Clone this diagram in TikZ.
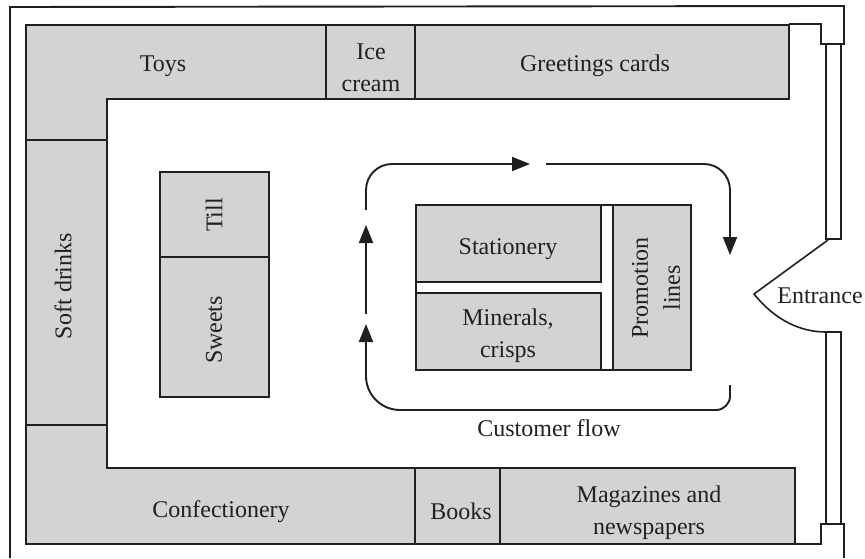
\documentclass[tikz,border=0pt]{standalone}
\usepackage{fontspec}
\setmainfont{Liberation Serif}
\usetikzlibrary{arrows.meta}
\definecolor{ink}{HTML}{231F20}
\definecolor{shelf}{HTML}{D1D3D4}
\tikzset{
  wall/.style={draw=ink,line width=1.9pt,line join=miter},
  stock/.style={wall,fill=shelf},
  label/.style={text=ink,font=\fontsize{24}{32}\selectfont,align=center,inner sep=0pt},
  flow/.style={draw=ink,line width=1.9pt,rounded corners=26pt,-{Triangle[length=18pt,width=14pt]}}
}
\begin{document}
\begin{tikzpicture}[x=1pt,y=-1pt]
\useasboundingbox (0,0) rectangle (865,559);
% outer walls
\draw[wall] (10,558) -- (10,7) -- (844,6) -- (844,44) -- (821,44) -- (821,24) -- (789,24);
\draw[wall] (795,544) -- (821,544) -- (821,524) -- (844,524) -- (844,558);
\draw[wall] (826,44) rectangle (841,239);
\draw[wall] (826,332) rectangle (841,524);
\draw[wall,line width=1.6pt] (828,240) -- (754,294) .. controls (775,320) and (800,332) .. (826,332);
% perimeter shelves
\draw[stock] (26,25) -- (789,25) -- (789,99) -- (107,99) -- (107,468) -- (795,468) -- (795,544) -- (26,544) -- cycle;
\draw[wall] (326,25) -- (326,99) (415,25) -- (415,99);
\draw[wall] (415,468) -- (415,544) (500,468) -- (500,544);
\draw[wall] (26,140) -- (107,140) (26,425) -- (107,425);
% till and sweets
\draw[stock] (160,172) rectangle (269,257);
\draw[stock] (160,257) rectangle (269,397);
% centre
\draw[wall] (416,205) rectangle (691,370);
\draw[stock] (416,205) rectangle (601,282);
\draw[stock] (416,293) rectangle (601,370);
\draw[stock] (613,205) rectangle (691,370);
% flow
\coordinate (a1) at (366,210); \coordinate (a2) at (366,164); \coordinate (a3) at (530,164);
\coordinate (b1) at (546,164); \coordinate (b2) at (730,164); \coordinate (b3) at (730,255);
\coordinate (c1) at (366,314); \coordinate (c2) at (366,225);
\coordinate (d1) at (730,385); \coordinate (d2) at (730,410); \coordinate (d3) at (366,410); \coordinate (d4) at (366,324);
\draw[flow] (a1) -- (a2) -- (a3);
\draw[flow] (b1) -- (b2) -- (b3);
\draw[flow] (c1) -- (c2);
\draw[flow,rounded corners=0pt] (d1) [rounded corners=14pt] -- (d2) [rounded corners=34pt] -- (d3) -- (d4);
% labels
\node[label] (toys) at (163,66) {Toys};
\node[label] (ice) at (371,67.5) {Ice\\cream};
\node[label] (cards) at (595,66) {Greetings cards};
\node[label,rotate=90] (soft) at (63,286) {Soft drinks};
\node[label,rotate=90] (till) at (214,215) {Till};
\node[label,rotate=90] (sweets) at (214,330) {Sweets};
\node[label] (stat) at (508,249) {Stationery};
\node[label] (min) at (508,336) {Minerals,\\crisps};
\node[label,rotate=90] (promo) at (656,288) {Promotion\\lines};
\node[label] (ent) at (820,296) {Entrance};
\node[label] (cust) at (549,428) {Customer flow};
\node[label] (conf) at (221,512) {Confectionery};
\node[label] (books) at (461,511) {Books};
\node[label] (mags) at (649,513) {Magazines and\\newspapers};
\end{tikzpicture}
\end{document}
